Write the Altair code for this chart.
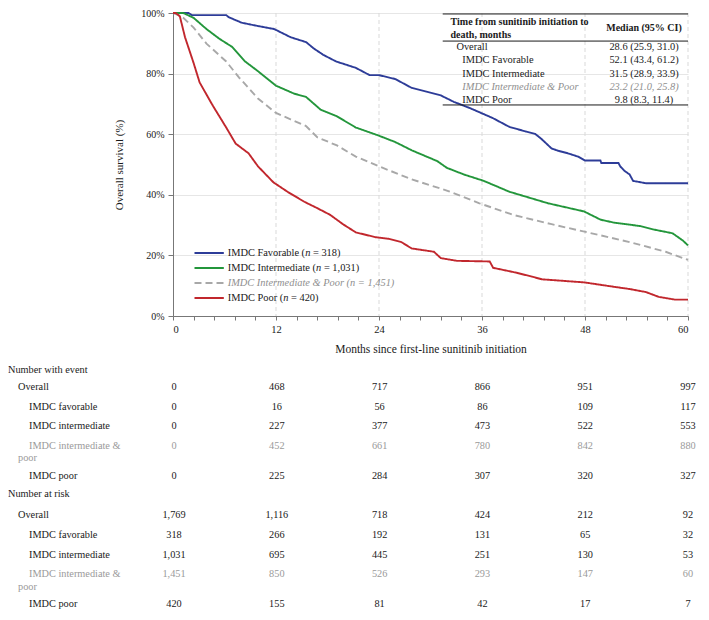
import altair as alt
import pandas as pd

FONT = "Liberation Serif"
BLACK = "#1a1a1a"
GRAY_TXT = "#8f8f8f"

# ---------------- Kaplan-Meier curves ----------------
series_names = ["IMDC Favorable", "IMDC Intermediate", "IMDC Intermediate & Poor", "IMDC Poor"]
series_colors = ["#2d3c98", "#23963b", "#a8a8a8", "#c1272d"]
series_dash = [[1, 0], [1, 0], [7, 4], [1, 0]]

fav_t = [0, 1.8, 2.2, 6.2, 6.5, 8.0, 9.9, 11.8, 13.7, 15.5, 16.4, 17.5, 19.0, 21.3, 22.9, 24.0, 25.9, 27.8, 31.2, 32.7,
         34.6, 37.2, 39.2, 41.1, 42.2, 42.9, 43.5, 44.1, 44.9, 46.0, 47.2, 48.0, 49.8, 49.9, 51.9, 52.1, 52.6, 53.2, 53.6, 55.1, 60]
fav_s = [100, 100, 99.3, 99.3, 98.6, 96.8, 95.7, 94.7, 92.0, 90.4, 88.3, 86.2, 84.0, 81.9, 79.5, 79.5, 78.2, 75.3, 72.8, 70.7,
         68.6, 65.4, 62.4, 60.9, 60.1, 58.5, 56.9, 55.3, 54.5, 53.7, 52.6, 51.3, 51.3, 50.5, 50.5, 49.4, 47.9, 46.7, 44.6, 43.8, 43.8]

int_t = [0, 1.2, 2.4, 3.9, 5.4, 6.9, 8.4, 9.9, 12.0, 14.1, 15.5, 17.2, 19.1, 21.3, 24.0, 25.9, 27.8, 30.8, 31.9, 33.9,
         36.2, 39.2, 43.7, 47.9, 49.8, 51.4, 54.4, 55.9, 58.2, 59.4, 60]
int_s = [100, 100, 98.4, 94.7, 91.5, 88.8, 84.0, 80.8, 76.0, 73.4, 72.3, 68.1, 65.9, 62.2, 59.5, 57.4, 54.7, 51.1, 48.9, 46.7,
         44.6, 41.0, 37.2, 34.5, 31.8, 30.8, 29.7, 28.6, 27.3, 24.9, 23.3]

ip_t = [0, 0.5, 1.2, 2.4, 3.9, 6.2, 7.7, 9.9, 12.0, 13.7, 15.5, 16.8, 19.1, 21.3, 24.0, 27.8, 31.9, 35.7, 39.6, 44.1,
        48.3, 53.2, 57.4, 60]
ip_s = [100, 99.5, 98.4, 95.2, 89.9, 84.0, 78.7, 71.8, 67.0, 64.9, 62.7, 59.0, 56.3, 52.6, 49.4, 45.1, 41.4, 37.2, 33.4, 30.3,
        27.6, 24.4, 21.2, 18.5]

poor_t = [0, 0.3, 0.8, 1.4, 2.4, 3.1, 4.6, 6.2, 7.3, 8.8, 9.9, 11.7, 13.4, 15.3, 16.8, 18.3, 19.8, 21.3, 23.6, 25.1,
          26.6, 27.8, 30.4, 31.2, 33.1, 36.9, 37.3, 40.0, 41.8, 43.0, 47.9, 51.7, 53.2, 55.1, 56.6, 58.5, 60]
poor_s = [100, 100, 98.9, 92.0, 83.5, 77.1, 69.6, 62.2, 56.9, 53.7, 49.4, 44.1, 40.9, 37.7, 35.6, 33.4, 30.3, 27.6, 26.0, 25.5,
          24.4, 22.3, 21.2, 19.1, 18.2, 18.0, 15.9, 14.3, 13.0, 12.1, 11.1, 9.5, 8.9, 7.9, 6.3, 5.4, 5.4]

# legend text split around the italic "n"
legend_prefix = ["IMDC Favorable (", "IMDC Intermediate (", "IMDC Intermediate & Poor (", "IMDC Poor ("]
legend_suffix = ["= 318)", "= 1,031)", "= 1,451)", "= 420)"]

# ---------------- inset median table ----------------
inset_header = ["Time from sunitinib initiation to", "death, months"]
inset_col_header = "Median (95% CI)"
inset_labels = ["Overall", "IMDC Favorable", "IMDC Intermediate", "IMDC Intermediate & Poor", "IMDC Poor"]
inset_medians = ["28.6 (25.9, 31.0)", "52.1 (43.4, 61.2)", "31.5 (28.9, 33.9)", "23.2 (21.0, 25.8)", "9.8 (8.3, 11.4)"]

# ---------------- tables below ----------------
months = [0, 12, 24, 36, 48, 60]
table_groups = ["Overall", "IMDC favorable", "IMDC intermediate", "IMDC intermediate &", "IMDC poor"]
events_overall = [0, 468, 717, 866, 951, 997]
events_fav = [0, 16, 56, 86, 109, 117]
events_int = [0, 227, 377, 473, 522, 553]
events_ip = [0, 452, 661, 780, 842, 880]
events_poor = [0, 225, 284, 307, 320, 327]
risk_overall = [1769, 1116, 718, 424, 212, 92]
risk_fav = [318, 266, 192, 131, 65, 32]
risk_int = [1031, 695, 445, 251, 130, 53]
risk_ip = [1451, 850, 526, 293, 147, 60]
risk_poor = [420, 155, 81, 42, 17, 7]

# ======================================================================
W, H = 515, 303
REF_W, REF_H = 527.0, 313.0   # layout reference for annotation placement
LEG_FS = 10.4

# Times / Liberation Serif advance widths (per 1000 em) for text measuring
TW = {" ": 250, "(": 333, ")": 333, "=": 564, ",": 250, "&": 778, "I": 333, "M": 889, "D": 722, "C": 667,
      "F": 556, "P": 556, "a": 444, "v": 500, "o": 500, "r": 333, "b": 500, "l": 278, "e": 444, "n": 500,
      "t": 278, "m": 778, "d": 500, "i": 278}


def text_w(s, fs):
    return sum(TW.get(c, 500) for c in s) * fs / 1000.0


def px_t(px):
    return px * 60.0 / REF_W


def py_s(py):
    return 100.0 - py * 100.0 / REF_H


minor_vals = [round(i * 2.4, 6) for i in range(26)]
xscale = alt.Scale(domain=[0, 60], nice=False, zero=False)
yscale = alt.Scale(domain=[0, 100], nice=False, zero=False)
xaxis = alt.Axis(values=minor_vals, labelExpr="datum.value % 12 === 0 ? datum.label : ''",
                 grid=False, tickSize=4, tickColor="#777777", domainColor="#777777",
                 labelFont=FONT, labelFontSize=10.5, labelColor=BLACK, labelPadding=4,
                 title="Months since first-line sunitinib initiation", titleFont=FONT,
                 titleFontSize=11.5, titleFontWeight="normal", titleColor=BLACK, titlePadding=9)
yaxis = alt.Axis(values=[0, 20, 40, 60, 80, 100], labelExpr="datum.value + '%'",
                 grid=True, gridColor="#e6e6e6", tickSize=5, tickColor="#777777", domainColor="#777777",
                 labelFont=FONT, labelFontSize=10, labelColor=BLACK, labelPadding=4,
                 title="Overall survival (%)", titleFont=FONT, titleFontSize=11,
                 titleFontWeight="normal", titleColor=BLACK, titlePadding=16)


def X(f):
    return alt.X(f, type="quantitative", scale=xscale, axis=xaxis)


def Y(f):
    return alt.Y(f, type="quantitative", scale=yscale, axis=yaxis)


color_enc = alt.Color("series:N", scale=alt.Scale(domain=series_names, range=series_colors), legend=None)
dash_enc = alt.StrokeDash("series:N", scale=alt.Scale(domain=series_names, range=series_dash), legend=None)

rows = []
for name, ts, ss in zip(series_names, [fav_t, int_t, ip_t, poor_t], [fav_s, int_s, ip_s, poor_s]):
    for i, (t, s) in enumerate(zip(ts, ss)):
        rows.append({"series": name, "t": t, "s": s, "i": i})
km = pd.DataFrame(rows)

vgrid = alt.Chart(pd.DataFrame({"t": months[1:]})).mark_rule(
    color="#d9d9d9", strokeDash=[4, 3], strokeWidth=1).encode(x=X("t"))

lines = alt.Chart(km).mark_line(strokeWidth=1.9).encode(
    x=X("t"), y=Y("s"), color=color_enc, strokeDash=dash_enc, order="i:Q",
    detail="series:N")

# legend (inside plot, lower left)
leg_rows_rule, leg_txt_rows, leg_it_rows = [], [], []
k = REF_W / W
for i, name in enumerate(series_names):
    s = 100.0 - (H - 63 + 15 * i) * 100.0 / H
    leg_rows_rule.append({"series": name, "t": px_t(22), "t2": px_t(52), "s": s})
    x0 = 56
    if i == 2:  # whole entry italic and gray
        leg_it_rows.append({"text": legend_prefix[i] + "n = " + legend_suffix[i][2:], "t": px_t(x0), "s": s,
                            "col": GRAY_TXT})
    else:
        w1 = text_w(legend_prefix[i], LEG_FS) * k
        wn = text_w("n ", LEG_FS) * k
        leg_txt_rows.append({"text": legend_prefix[i], "t": px_t(x0), "s": s, "col": BLACK})
        leg_it_rows.append({"text": "n", "t": px_t(x0 + w1), "s": s, "col": BLACK})
        leg_txt_rows.append({"text": legend_suffix[i], "t": px_t(x0 + w1 + wn), "s": s, "col": BLACK})

leg_rules = alt.Chart(pd.DataFrame(leg_rows_rule)).mark_rule(strokeWidth=1.9).encode(
    x=X("t"), x2="t2", y=Y("s"), color=color_enc, strokeDash=dash_enc)
leg_txt = alt.Chart(pd.DataFrame(leg_txt_rows)).mark_text(
    align="left", baseline="middle", font=FONT, fontSize=LEG_FS).encode(
    x=X("t"), y=Y("s"), text="text", color=alt.Color("col:N", scale=None))
leg_txt_i = alt.Chart(pd.DataFrame(leg_it_rows)).mark_text(
    align="left", baseline="middle", font=FONT, fontSize=LEG_FS, fontStyle="italic").encode(
    x=X("t"), y=Y("s"), text="text", color=alt.Color("col:N", scale=None))

# inset table
rule_df = pd.DataFrame({"t": [px_t(276)] * 3, "t2": [px_t(527)] * 3,
                        "s": [py_s(1.0), py_s(29.0), py_s(95.0)]})
inset_rules = alt.Chart(rule_df).mark_rule(color=BLACK, strokeWidth=1).encode(x=X("t"), x2="t2", y=Y("s"))

head_df = pd.DataFrame({
    "text": inset_header + [inset_col_header],
    "t": [px_t(284), px_t(284), px_t(482)],
    "s": [py_s(9.0), py_s(23.0), py_s(16.0)],
    "al": ["left", "left", "center"],
})
head_left = alt.Chart(head_df[head_df.al == "left"]).mark_text(
    align="left", baseline="middle", font=FONT, fontSize=10, fontWeight="bold", color=BLACK).encode(
    x=X("t"), y=Y("s"), text="text")
head_center = alt.Chart(head_df[head_df.al == "center"]).mark_text(
    align="center", baseline="middle", font=FONT, fontSize=10, fontWeight="bold", color=BLACK).encode(
    x=X("t"), y=Y("s"), text="text")

inset_df = pd.DataFrame({
    "label": inset_labels,
    "median": inset_medians,
    "t": [px_t(290)] + [px_t(296)] * 4,
    "tm": [px_t(482)] * 5,
    "s": [py_s(35.5 + 13.5 * i) for i in range(5)],
    "col": [BLACK, BLACK, BLACK, GRAY_TXT, BLACK],
    "ital": [False, False, False, True, False],
})
ins_norm = inset_df[~inset_df.ital]
ins_it = inset_df[inset_df.ital]
IFS = 10.4
ins_l = alt.Chart(ins_norm).mark_text(align="left", baseline="middle", font=FONT, fontSize=IFS).encode(
    x=X("t"), y=Y("s"), text="label", color=alt.Color("col:N", scale=None))
ins_m = alt.Chart(ins_norm).mark_text(align="center", baseline="middle", font=FONT, fontSize=IFS).encode(
    x=X("tm"), y=Y("s"), text="median", color=alt.Color("col:N", scale=None))
ins_li = alt.Chart(ins_it).mark_text(align="left", baseline="middle", font=FONT, fontSize=IFS,
                                     fontStyle="italic").encode(
    x=X("t"), y=Y("s"), text="label", color=alt.Color("col:N", scale=None))
ins_mi = alt.Chart(ins_it).mark_text(align="center", baseline="middle", font=FONT, fontSize=IFS,
                                     fontStyle="italic").encode(
    x=X("tm"), y=Y("s"), text="median", color=alt.Color("col:N", scale=None))

top = alt.layer(vgrid, lines, leg_rules, leg_txt, leg_txt_i, inset_rules, head_left, head_center,
                ins_l, ins_m, ins_li, ins_mi).properties(width=W, height=H)

# ---------------- bottom tables ----------------
BX0, BX1 = -0.117, 60.0
UNIT = 19.75
Y0, Y1 = -0.76, 12.1


def bpx_t(px):
    return BX0 + px * (BX1 - BX0) / W


group_colors = [BLACK, BLACK, BLACK, "#9a9a9a", BLACK]
sections = [("Number with event", [events_overall, events_fav, events_int, events_ip, events_poor], 0.85),
            ("Number at risk", [risk_overall, risk_fav, risk_int, risk_ip, risk_poor], 1.05)]

lab_rows, num_rows = [], []
pos = 0.0
for si, (title, tables, first_step) in enumerate(sections):
    if si > 0:
        pos += 0.95
    lab_rows.append({"text": title, "t": bpx_t(-165), "pos": pos, "col": BLACK})
    pos += first_step
    for gi, (g, vals) in enumerate(zip(table_groups, tables)):
        if gi > 0:
            pos += 1.5 if table_groups[gi - 1].endswith("&") else 1.0
        indent = -155 if gi == 0 else -144
        lab_rows.append({"text": g, "t": bpx_t(indent), "pos": pos, "col": group_colors[gi]})
        if g.endswith("&"):
            lab_rows.append({"text": "poor", "t": bpx_t(-155), "pos": pos + 0.62, "col": group_colors[gi]})
        for m, v in zip(months, vals):
            num_rows.append({"m": m, "pos": pos, "v": f"{v:,}", "col": group_colors[gi]})

bxs = alt.Scale(domain=[BX0, BX1], nice=False, zero=False)
bys = alt.Scale(domain=[Y0, Y1], nice=False, zero=False, reverse=True)
TFS = 10.3
tab_labels = alt.Chart(pd.DataFrame(lab_rows)).mark_text(
    align="left", baseline="middle", font=FONT, fontSize=TFS).encode(
    x=alt.X("t:Q", scale=bxs, axis=None), y=alt.Y("pos:Q", scale=bys, axis=None),
    text="text", color=alt.Color("col:N", scale=None))
tab_nums = alt.Chart(pd.DataFrame(num_rows)).mark_text(
    align="center", baseline="middle", font=FONT, fontSize=TFS).encode(
    x=alt.X("m:Q", scale=bxs, axis=None), y=alt.Y("pos:Q", scale=bys, axis=None),
    text="v", color=alt.Color("col:N", scale=None))

bottom = alt.layer(tab_labels, tab_nums).properties(width=W, height=round((Y1 - Y0) * UNIT))

chart = alt.vconcat(top, bottom, spacing=0,
                    padding={"left": 0, "top": 0, "right": 0, "bottom": 0}).resolve_scale(
    x="independent", y="independent").configure(font=FONT).configure_view(
    stroke="transparent", strokeWidth=0)

chart.save("out.html", embed_options={"renderer": "svg", "actions": False})
